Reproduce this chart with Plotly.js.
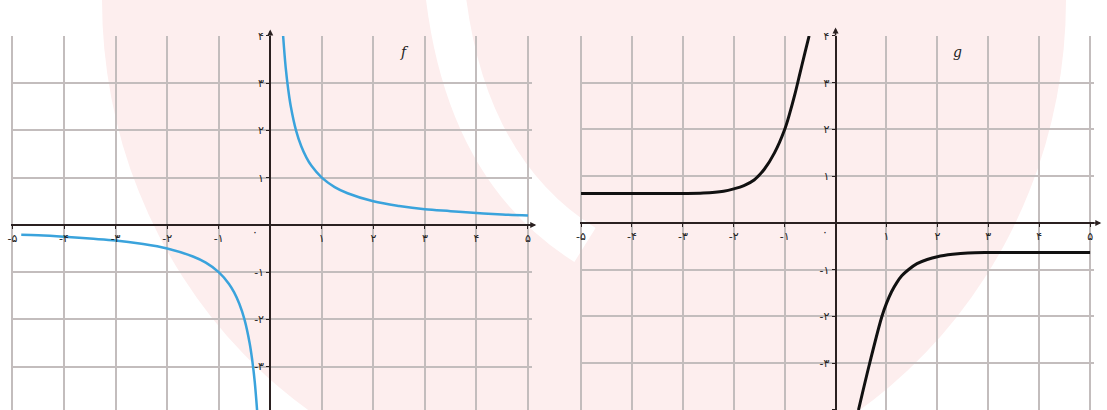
<!DOCTYPE html>
<html>
<head>
<meta charset="utf-8">
<script src="https://cdn.plot.ly/plotly-3.0.1.min.js"></script>
<style>
html, body { margin: 0; padding: 0; background: #fff; }
#chart { width: 1107px; height: 410px; }
</style>
</head>
<body>
<div id="chart"></div>
<script>
// f : blue hyperbola
const fLeftX  = [-4.83, -4.5, -4, -3.5, -3, -2.5, -2, -1.5, -1.25, -1, -0.8, -0.7, -0.6, -0.5, -0.4, -0.35, -0.3, -0.25]
const fLeftY  = [-0.21, -0.22, -0.25, -0.29, -0.33, -0.4, -0.5, -0.67, -0.8, -1, -1.25, -1.43, -1.67, -2, -2.5, -2.86, -3.33, -4]
const fRightX = [0.25, 0.3, 0.35, 0.4, 0.5, 0.6, 0.7, 0.8, 1, 1.25, 1.5, 2, 2.5, 3, 3.5, 4, 4.5, 5]
const fRightY = [4, 3.33, 2.86, 2.5, 2, 1.67, 1.43, 1.25, 1, 0.8, 0.67, 0.5, 0.4, 0.33, 0.29, 0.25, 0.22, 0.2]

// g : black curve
const gLeftX  = [-5, -4, -3, -2.6, -2.2, -2, -1.8, -1.6, -1.4, -1.2, -1, -0.9, -0.8, -0.7, -0.6, -0.52]
const gLeftY  = [0.63, 0.63, 0.63, 0.64, 0.68, 0.73, 0.8, 0.92, 1.15, 1.5, 2, 2.35, 2.75, 3.2, 3.65, 4]
const gRightX = [0.45, 0.67, 0.91, 1, 1.1, 1.2, 1.3, 1.43, 1.6, 1.8, 2, 2.3, 2.6, 3, 4, 5]
const gRightY = [-4, -3, -2, -1.72, -1.47, -1.28, -1.13, -1, -0.87, -0.78, -0.72, -0.67, -0.64, -0.63, -0.63, -0.63]

// tick labels (Persian digits)
const xTickVals = [-5, -4, -3, -2, -1, 1, 2, 3, 4, 5]
const xTickText = ['-۵', '-۴', '-۳', '-۲', '-۱', '۱', '۲', '۳', '۴', '۵']
const yTickVals = [-4, -3, -2, -1, 1, 2, 3, 4]
const yTickText = ['-۴', '-۳', '-۲', '-۱', '۱', '۲', '۳', '۴']

const axisColor = '#2a2020'
const gridColor = '#c3bdbd'
const tickFont = {family: 'DejaVu Sans', size: 11, color: '#222'}

// where the value 0 sits inside a domain, as paper fraction
function zeroPos(domain, range){
	return domain[0] + (domain[1] - domain[0]) * (0 - range[0]) / (range[1] - range[0])
}

function xAxis(domain, range, yDomain, yRange){
	return {
		domain: domain, range: range,
		anchor: 'free', position: zeroPos(yDomain, yRange),
		showline: true, linecolor: axisColor, linewidth: 2,
		showgrid: true, gridcolor: gridColor, gridwidth: 2,
		zeroline: false,
		tickmode: 'array', tickvals: xTickVals, ticktext: xTickText,
		ticks: 'outside', ticklen: 3, tickcolor: axisColor,
		tickfont: tickFont, fixedrange: true
	}
}

function yAxis(domain, range, xDomain, xRange){
	return {
		domain: domain, range: range,
		anchor: 'free', position: zeroPos(xDomain, xRange),
		showline: true, linecolor: axisColor, linewidth: 2,
		showgrid: true, gridcolor: gridColor, gridwidth: 2,
		zeroline: false,
		tickmode: 'array', tickvals: yTickVals, ticktext: yTickText,
		ticks: 'outside', ticklen: 3, tickcolor: axisColor,
		tickfont: tickFont, fixedrange: true
	}
}

const xDom1 = [0.00989, 0.48067], xRange1 = [-5.03, 5.08]
const yDom1 = [0, 0.9122],        yRange1 = [-3.92, 4]
const xDom2 = [0.5235, 0.9884],   xRange2 = [-5.03, 5.08]
const yDom2 = [0, 0.9122],        yRange2 = [-4, 4]

const blue = {color: '#3aa3dc', width: 2.5, shape: 'spline'}
const black = {color: '#111', width: 3, shape: 'spline'}

var data = [
	{x: fLeftX,  y: fLeftY,  xaxis: 'x',  yaxis: 'y',  mode: 'lines', line: blue},
	{x: fRightX, y: fRightY, xaxis: 'x',  yaxis: 'y',  mode: 'lines', line: blue},
	{x: gLeftX,  y: gLeftY,  xaxis: 'x2', yaxis: 'y2', mode: 'lines', line: black},
	{x: gRightX, y: gRightY, xaxis: 'x2', yaxis: 'y2', mode: 'lines', line: black},
]

function arrow(xr, yr, x, y, ax, ay){
	return {xref: xr, yref: yr, axref: xr, ayref: yr, x: x, y: y, ax: ax, ay: ay,
		text: '', showarrow: true, arrowhead: 2, arrowsize: 0.8, arrowwidth: 1.5, arrowcolor: axisColor}
}

function label(xr, yr, x, y, text, size){
	return {xref: xr, yref: yr, x: x, y: y, text: text, showarrow: false,
		font: {family: 'DejaVu Serif', size: size, color: '#222'}}
}

var annotations = [
	arrow('x', 'y', 5.16, 0, 5.0, 0),
	arrow('x', 'y', 0, 4.14, 0, 3.98),
	arrow('x2', 'y2', 5.22, 0, 5.0, 0),
	arrow('x2', 'y2', 0, 4.18, 0, 3.98),
	label('x', 'y', -0.05, 4.38, '<i>y</i>', 12),
	label('x', 'y', 5.2, 0.1, '<i>x</i>', 11),
	label('x', 'y', 2.6, 3.66, '<i>f</i>', 14),
	label('x2', 'y2', -0.03, 4.47, '<i>y</i>', 12),
	label('x2', 'y2', 2.4, 3.66, '<i>g</i>', 14),
	{xref: 'x', yref: 'y', x: -0.3, y: -0.17, text: '۰', showarrow: false, font: tickFont},
	{xref: 'x2', yref: 'y2', x: -0.2, y: -0.2, text: '۰', showarrow: false, font: tickFont},
]

// watermark drawn in page pixels, turned into paper fractions
const W = 1107, H = 410
function px(x){ return x / W }
function py(y){ return 1 - y / H }

var layout = {
	width: W, height: H,
	margin: {l: 0, r: 0, t: 0, b: 0},
	paper_bgcolor: '#fff',
	plot_bgcolor: 'rgba(0,0,0,0)',
	showlegend: false,
	xaxis: xAxis(xDom1, xRange1, yDom1, yRange1),
	yaxis: yAxis(yDom1, yRange1, xDom1, xRange1),
	xaxis2: xAxis(xDom2, xRange2, yDom2, yRange2),
	yaxis2: yAxis(yDom2, yRange2, xDom2, xRange2),
	annotations: annotations,
	shapes: [
		{type: 'circle', xref: 'paper', yref: 'paper', x0: px(102), x1: px(1066), y0: py(500), y1: py(-500),
			fillcolor: '#fdeeee', line: {width: 0}, layer: 'below'},
		{type: 'path', xref: 'paper', yref: 'paper', layer: 'below', line: {color: '#fff', width: 40},
			path: `M ${px(445)},${py(-10)} Q ${px(465)},${py(170)} ${px(585)},${py(245)}`},
	]
}

Plotly.newPlot('chart', data, layout, {displayModeBar: false, staticPlot: true})
</script>
</body>
</html>
